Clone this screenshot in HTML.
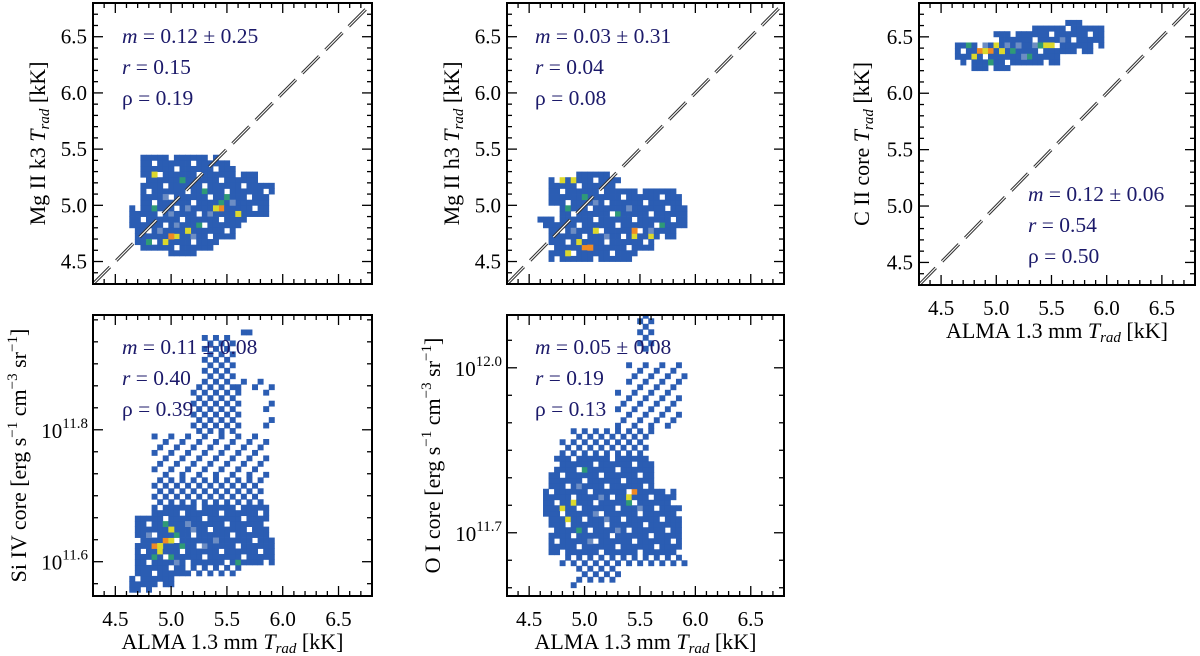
<!DOCTYPE html>
<html><head><meta charset="utf-8"><style>
html,body{margin:0;padding:0;background:#fff;width:1200px;height:656px;overflow:hidden}
svg text{font-family:"Liberation Serif",serif;fill:#000}
.st{fill:#1c1a6a;font-size:21.5px}
.tk{font-size:21px}
.ti{font-size:22px}
</style></head><body>
<svg id="fig" width="1200" height="656" viewBox="0 0 1200 656" xmlns="http://www.w3.org/2000/svg"></svg>
<script>
// ---- data: density regions [xmin,xmax,ymin,ymax,fillMode] and hot cells [x,y,level]
const p1Regions=[[4.75,5.38,5.40,5.46,1],[4.75,5.53,5.30,5.40,1],[4.75,5.76,5.22,5.30,1],[4.75,5.88,5.08,5.22,1],[4.75,5.86,4.98,5.08,1],[4.63,5.85,4.88,4.98,1],[4.63,5.65,4.80,4.88,1],[4.70,5.56,4.70,4.80,1],[4.70,5.41,4.62,4.70,1],[5.02,5.26,4.56,4.62,1]];
const p1Hot=[[5.47,4.96,4],[5.42,4.96,3],[4.99,4.74,4],[5.04,4.74,3],[4.94,4.69,3],[5.13,4.79,3],[4.80,4.67,2],[5.45,5.01,2],[5.50,5.06,2],[5.10,5.21,2],[4.85,5.26,3],[5.30,5.11,2],[5.60,4.91,3],[5.00,4.90,1],[5.05,4.85,1],[4.90,4.80,1],[5.15,4.95,1],[5.35,4.90,1],[5.55,5.00,1],[4.95,5.10,1],[5.20,4.70,1],[5.25,4.85,2],[4.85,4.95,2]];
const p2Regions=[[4.93,5.23,5.25,5.30,1],[4.72,5.32,5.17,5.25,1],[4.72,5.80,5.08,5.17,1],[4.72,5.83,4.99,5.08,1],[4.78,5.92,4.88,4.99,1],[4.62,5.92,4.78,4.88,1],[4.72,5.80,4.69,4.78,1],[4.72,5.62,4.60,4.69,1],[4.72,5.47,4.50,4.60,1]];
const p2Hot=[[4.99,4.63,4],[5.04,4.63,4],[4.94,4.68,3],[5.47,4.78,4],[5.47,4.73,3],[4.78,5.20,3],[4.88,5.20,3],[4.83,4.58,3],[5.10,4.80,3],[5.58,4.73,3],[4.85,4.95,2],[5.00,5.10,2],[5.30,4.90,2],[5.70,4.85,2],[4.90,4.75,1],[5.20,4.70,1],[5.40,4.95,1],[5.10,5.05,1],[5.60,4.80,1]];
const p3Regions=[[5.64,5.76,6.60,6.65,1],[5.28,5.94,6.53,6.60,1],[5.01,5.94,6.47,6.53,1],[4.63,5.94,6.41,6.47,1],[4.63,5.84,6.35,6.41,1],[4.63,5.54,6.30,6.35,1],[4.72,5.54,6.26,6.30,1],[4.79,5.10,6.22,6.26,1]];
const p3Hot=[[4.85,6.37,4],[4.90,6.37,3],[4.95,6.37,4],[5.00,6.40,3],[5.05,6.37,3],[4.80,6.35,3],[5.45,6.42,3],[5.50,6.42,3],[5.40,6.40,2],[5.15,6.38,2],[5.30,6.35,2],[4.75,6.40,2],[4.95,6.30,2],[5.10,6.42,1],[5.20,6.40,1],[5.35,6.44,1],[5.60,6.45,1],[4.90,6.43,1],[5.25,6.32,1]];
const p4Regions=[[4.63,4.78,11.552,11.562,1],[4.63,5.02,11.562,11.580,1],[4.70,5.08,11.580,11.595,1],[5.14,5.62,11.580,11.595,2],[4.72,5.92,11.595,11.640,1],[4.72,5.86,11.640,11.670,1],[4.84,5.86,11.670,11.690,1],[4.84,5.80,11.690,11.730,2],[4.84,5.86,11.730,11.795,3],[5.20,5.62,11.795,11.870,2],[5.86,5.92,11.80,11.87,3],[5.32,5.56,11.870,11.945,2],[5.62,5.92,11.86,11.88,3],[5.65,5.68,11.945,11.955,1]];
const p4Hot=[[4.85,11.62,4],[4.90,11.625,3],[4.95,11.63,4],[5.00,11.635,3],[5.00,11.645,3],[4.90,11.615,3],[5.05,11.64,2],[4.95,11.655,2],[5.10,11.62,2],[5.00,11.61,2],[4.85,11.605,2],[5.60,11.60,2],[5.20,11.65,1],[5.30,11.62,1],[5.40,11.63,1],[5.15,11.66,1],[5.05,11.60,1],[4.80,11.64,1]];
const p5Regions=[[4.90,4.96,11.59,11.605,3],[4.96,5.32,11.605,11.635,2],[4.78,5.92,11.635,11.66,2],[4.72,5.83,11.66,11.685,1],[4.72,5.83,11.685,11.715,1],[4.63,5.83,11.715,11.745,1],[4.63,5.80,11.745,11.775,1],[4.72,5.62,11.775,11.805,1],[4.75,5.62,11.805,11.835,1],[4.80,5.56,11.835,11.865,2],[4.90,5.62,11.865,11.89,2],[5.32,5.83,11.89,11.96,3],[5.40,5.92,11.96,12.01,3],[5.52,5.60,12.03,12.10,2]];
const p5Hot=[[4.82,11.74,3],[4.90,11.75,3],[4.85,11.72,3],[4.95,11.70,2],[5.40,11.76,3],[5.45,11.77,4],[5.38,11.75,2],[5.00,11.81,2],[5.10,11.73,1],[5.20,11.72,1],[4.95,11.78,1],[5.30,11.70,1],[5.15,11.76,1],[5.50,11.74,1],[5.05,11.68,1]];
const kTicks=[4.5,5.0,5.5,6.0,6.5];
const kTickLabels=["4.5","5.0","5.5","6.0","6.5"];
const p4Ticks=[11.6,11.8];
const p5Ticks=[11.7,12.0];
const stats1=["0.12 ± 0.25","0.15","0.19"];
const stats2=["0.03 ± 0.31","0.04","0.08"];
const stats3=["0.12 ± 0.06","0.54","0.50"];
const stats4=["0.11 ± 0.08","0.40","0.39"];
const stats5=["0.05 ± 0.08","0.19","0.13"];

const NS="http://www.w3.org/2000/svg";
const svg=document.getElementById('fig');
const COLORS=["#2b5db3","#6c8dc4","#2f9a77","#dcd82c","#f08a24"];
function mk(tag,attrs,parent){const e=document.createElementNS(NS,tag);for(const k in attrs)e.setAttribute(k,attrs[k]);(parent||svg).appendChild(e);return e;}

function panel(cfg){
  const g=mk('g',{});
  
  
  const sx=v=>cfg.L+(v-cfg.xmin)/(cfg.xmax-cfg.xmin)*(cfg.R-cfg.L);
  const sy=v=>cfg.B-(v-cfg.ymin)/(cfg.ymax-cfg.ymin)*(cfg.B-cfg.T);
  const dx=cfg.dx, dy=cfg.dy;
  const cells=new Map();
  cfg.regions.forEach(r=>{
    const i0=Math.round(r[0]/dx), i1=Math.round(r[1]/dx);
    const j0=Math.round(r[2]/dy), j1=Math.round(r[3]/dy);
    for(let i=i0;i<=i1;i++)for(let j=j0;j<j1;j++){
      if(r[4]===1&&(i*3+j*5)%7===0)continue;
      if(r[4]===2&&(i+j)%2!==0)continue;
      if(r[4]===3&&(i+2*j)%3!==0)continue;
      const key=i+','+j; if(!cells.has(key))cells.set(key,0);
    }
  });
  cfg.hot.forEach(h=>{const key=Math.round(h[0]/dx)+','+Math.floor(h[1]/dy);cells.set(key,Math.max(cells.get(key)||0,h[2]));});
  const cg=mk('g',{'clip-path':'url(#clip-'+cfg.id+')'},g);
  const cp=mk('clipPath',{id:'clip-'+cfg.id},g);
  mk('rect',{x:cfg.L,y:cfg.T,width:cfg.R-cfg.L,height:cfg.B-cfg.T},cp);
  const w=dx/(cfg.xmax-cfg.xmin)*(cfg.R-cfg.L), h=dy/(cfg.ymax-cfg.ymin)*(cfg.B-cfg.T);
  cells.forEach((lv,key)=>{
    const [i,j]=key.split(',').map(Number);
    const r=mk('rect',{x:(sx(i*dx)-w/2).toFixed(2),y:(sy((j+1)*dy)).toFixed(2),width:(w+0.4).toFixed(2),height:(h+0.4).toFixed(2),fill:COLORS[lv]},cg);
    
    
  });
  if(cfg.diag){
    const a=mk('line',{x1:sx(cfg.xmin),y1:sy(cfg.ymin),x2:sx(cfg.xmax),y2:sy(cfg.ymax),stroke:'#333','stroke-width':3.2,'stroke-dasharray':'24 9'},cg);
    
    
    mk('line',{x1:sx(cfg.xmin),y1:sy(cfg.ymin),x2:sx(cfg.xmax),y2:sy(cfg.ymax),stroke:'#fff','stroke-width':1.1,'stroke-dasharray':'24 9'},cg);
  }
  const fr=mk('rect',{x:cfg.L,y:cfg.T,width:cfg.R-cfg.L,height:cfg.B-cfg.T,fill:'none',stroke:'#000','stroke-width':2},g);
  
  
  for(let k=0;k<=25;k++){const v=cfg.xmin+k*0.1;const x=sx(v);const major=Math.abs((v*10)%5)<0.01||Math.abs((v*10)%5-5)<0.01;const len=major?10:5;
    mk('line',{x1:x,y1:cfg.B,x2:x,y2:cfg.B-len,stroke:'#000','stroke-width':1.3},g);
    mk('line',{x1:x,y1:cfg.T,x2:x,y2:cfg.T+len,stroke:'#000','stroke-width':1.3},g);}
  if(cfg.xlabels){kTicks.forEach((v,i)=>{const t=mk('text',{x:sx(v),y:cfg.B+30,'text-anchor':'middle',class:'tk'},g);t.textContent=kTickLabels[i];});
    const t=mk('text',{x:(cfg.L+cfg.R)/2,y:cfg.B+53,'text-anchor':'middle',class:'ti'},g);
    t.innerHTML='ALMA 1.3 mm <tspan font-style="italic">T</tspan><tspan font-style="italic" font-size="15" dy="4">rad</tspan><tspan dy="-4"> [kK]</tspan>';
    }
  if(!cfg.log){
    for(let k=0;k<=25;k++){const v=cfg.ymin+k*0.1;const y=sy(v);const major=Math.abs((v*10)%5)<0.01||Math.abs((v*10)%5-5)<0.01;const len=major?10:5;
      mk('line',{x1:cfg.L,y1:y,x2:cfg.L+len,y2:y,stroke:'#000','stroke-width':1.3},g);
      mk('line',{x1:cfg.R,y1:y,x2:cfg.R-len,y2:y,stroke:'#000','stroke-width':1.3},g);}
    kTicks.forEach((v,i)=>{const t=mk('text',{x:cfg.L-6,y:sy(v)+7,'text-anchor':'end',class:'tk'},g);t.textContent=kTickLabels[i];});
  }else{
    const step=cfg.minor;const start=Math.ceil(cfg.ymin/step-1e-6);
    for(let k=start;k*step<=cfg.ymax;k++){const v=k*step;const y=sy(v);const major=cfg.ticks.some(t=>Math.abs(t-v)<1e-4);const len=major?10:5;
      mk('line',{x1:cfg.L,y1:y,x2:cfg.L+len,y2:y,stroke:'#000','stroke-width':1.3},g);
      mk('line',{x1:cfg.R,y1:y,x2:cfg.R-len,y2:y,stroke:'#000','stroke-width':1.3},g);}
    cfg.ticks.forEach(v=>{const t=mk('text',{x:cfg.L-5,y:sy(v)+8,'text-anchor':'end',class:'tk'},g);
      t.innerHTML='10<tspan font-size="15" dy="-10">'+v.toFixed(1)+'</tspan>';});
  }
  const yt=mk('text',{x:0,y:0,'text-anchor':'middle',class:'ti',transform:'translate('+cfg.ytx+','+((cfg.T+cfg.B)/2)+') rotate(-90)'},g);
  yt.innerHTML=cfg.ytitle;
  
  const pre=['<tspan font-style="italic">m</tspan> = ','<tspan font-style="italic">r</tspan> = ','ρ = '];
  cfg.stats.forEach((s,i)=>{const t=mk('text',{x:cfg.sx,y:cfg.sy+i*31,class:'st'},g);t.innerHTML=pre[i]+s;
    });
}
const trad='<tspan font-style="italic">T</tspan><tspan font-style="italic" font-size="15" dy="4">rad</tspan><tspan dy="-4"> [kK]</tspan>';
const flux=' [erg s<tspan font-size="15" dy="-9">−1</tspan><tspan dy="9"> cm</tspan><tspan font-size="15" dy="-9">−3</tspan><tspan dy="9"> sr</tspan><tspan font-size="15" dy="-9">−1</tspan><tspan dy="9">]</tspan>';
panel({id:1,name:'panel-mg-k3',L:93,R:372,T:3,B:284,xmin:4.3,xmax:6.8,ymin:4.3,ymax:6.8,dx:0.05,dy:0.05,regions:p1Regions,hot:p1Hot,diag:true,xlabels:false,ytx:45,ytitle:'Mg II k3 '+trad,stats:stats1,sx:122,sy:43});
panel({id:2,name:'panel-mg-h3',L:507,R:784,T:3,B:284,xmin:4.3,xmax:6.8,ymin:4.3,ymax:6.8,dx:0.05,dy:0.05,regions:p2Regions,hot:p2Hot,diag:true,xlabels:false,ytx:459,ytitle:'Mg II h3 '+trad,stats:stats2,sx:535,sy:43});
panel({id:3,name:'panel-c-ii',L:919,R:1195,T:3,B:285,xmin:4.3,xmax:6.8,ymin:4.3,ymax:6.8,dx:0.05,dy:0.05,regions:p3Regions,hot:p3Hot,diag:true,xlabels:true,ytx:869,ytitle:'C II core '+trad,stats:stats3,sx:1028,sy:201});
panel({id:4,name:'panel-si-iv',L:93,R:372,T:315,B:596,xmin:4.3,xmax:6.8,ymin:11.548,ymax:11.974,dx:0.05,dy:0.0083,regions:p4Regions,hot:p4Hot,diag:false,xlabels:true,log:true,ticks:p4Ticks,minor:0.2/6,ytx:26,ytitle:'Si IV core'+flux,stats:stats4,sx:122,sy:354});
panel({id:5,name:'panel-o-i',L:507,R:784,T:315,B:596,xmin:4.3,xmax:6.8,ymin:11.585,ymax:12.096,dx:0.05,dy:0.01,regions:p5Regions,hot:p5Hot,diag:false,xlabels:true,log:true,ticks:p5Ticks,minor:0.05,ytx:440,ytitle:'O I core'+flux,stats:stats5,sx:535,sy:354});
</script>
</body></html>
